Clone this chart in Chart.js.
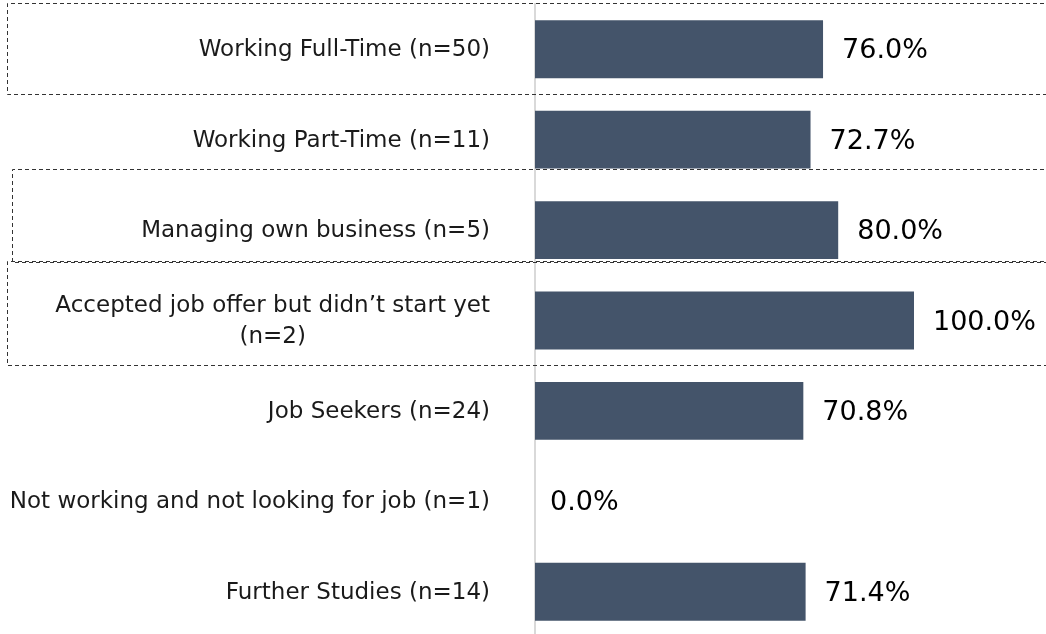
<!DOCTYPE html>
<html>
<head>
<meta charset="utf-8">
<script src="https://cdn.jsdelivr.net/npm/chart.js@4.4.1/dist/chart.umd.min.js"></script>
<style>
    html, body { margin: 0; padding: 0; background: #fff; overflow: hidden; }
    #wrap { width: 1046px; height: 640px; }
</style>
</head>
<body>
<div id="wrap"><canvas id="grafico"></canvas></div>
<script>
const categorias = [
    'Working Full-Time (n=50)',
    'Working Part-Time (n=11)',
    'Managing own business (n=5)',
    ['Accepted job offer but didn\u2019t start yet', '(n=2)'],
    'Job Seekers (n=24)',
    'Not working and not looking for job (n=1)',
    'Further Studies (n=14)'
];
const valores = [76.0, 72.7, 80.0, 100.0, 70.8, 0.0, 71.4];

(function () {
    const canvas = document.getElementById('grafico');
    if (!canvas || typeof Chart === 'undefined') {
        return;
    }

    const fonteRotulo = '23px "DejaVu Sans", sans-serif';
    const fonteValor = '27px "DejaVu Sans", sans-serif';

    // caixas tracejadas: linha da categoria, deslocamentos do centro
    const caixas = [
        { linha: 0, acima: 46, abaixo: 45, esquerda: 7 },
        { linha: 2, acima: 61, abaixo: 32, esquerda: 12 },
        { linha: 3, acima: 60, abaixo: 44, esquerda: 7 }
    ];

    const rotulosPlugin = {
        id: 'rotulos',
        afterDatasetsDraw(chart) {
            const ctx = chart.ctx;
            const escalaY = chart.scales.y;
            const escalaX = chart.scales.x;

            ctx.save();
            ctx.fillStyle = '#1a1a1a';
            ctx.font = fonteRotulo;
            ctx.textBaseline = 'middle';

            categorias.forEach(function (rotulo, i) {
                const y = escalaY.getPixelForValue(i);
                const direita = escalaY.right - 45;
                if (Array.isArray(rotulo)) {
                    const largura = Math.max.apply(null, rotulo.map(function (t) { return ctx.measureText(t).width; }));
                    const centro = direita - largura / 2;
                    const passo = 31;
                    const inicio = y - (rotulo.length - 1) * passo / 2 + 1;
                    ctx.textAlign = 'center';
                    rotulo.forEach(function (t, k) {
                        ctx.fillText(t, centro, inicio + k * passo);
                    });
                } else {
                    ctx.textAlign = 'right';
                    ctx.fillText(rotulo, direita, y + 1);
                }
            });

            ctx.font = fonteValor;
            ctx.fillStyle = '#000';
            ctx.textAlign = 'left';
            valores.forEach(function (v, i) {
                const x = escalaX.getPixelForValue(v) + (v === 0 ? 15 : 19);
                const y = escalaY.getPixelForValue(i) + 2;
                ctx.fillText(v.toFixed(1) + '%', x, y);
            });

            ctx.strokeStyle = '#333';
            ctx.lineWidth = 1;
            ctx.setLineDash([4, 3]);
            caixas.forEach(function (c) {
                const y = escalaY.getPixelForValue(c.linha);
                const topo = Math.round(y - c.acima) + 0.5;
                const base = Math.round(y + c.abaixo) + 0.5;
                ctx.beginPath();
                ctx.moveTo(chart.width + 5, topo);
                ctx.lineTo(c.esquerda + 0.5, topo);
                ctx.lineTo(c.esquerda + 0.5, base);
                ctx.lineTo(chart.width + 5, base);
                ctx.stroke();
            });
            ctx.restore();
        }
    };

    new Chart(canvas, {
        type: 'bar',
        data: {
            labels: categorias,
            datasets: [{
                data: valores,
                backgroundColor: '#44546A',
                borderWidth: 0,
                categoryPercentage: 1,
                barPercentage: 0.64
            }]
        },
        options: {
            indexAxis: 'y',
            responsive: true,
            maintainAspectRatio: false,
            animation: false,
            layout: {
                padding: { left: 535, right: 132, top: 4, bottom: 3 }
            },
            scales: {
                x: {
                    display: false,
                    min: 0,
                    max: 100
                },
                y: {
                    ticks: { display: false },
                    grid: { display: false, drawTicks: false },
                    border: { display: true, color: '#d9d9d9', width: 2 }
                }
            },
            plugins: {
                legend: { display: false },
                tooltip: { enabled: false }
            }
        },
        plugins: [rotulosPlugin]
    });
})();
</script>
</body>
</html>
